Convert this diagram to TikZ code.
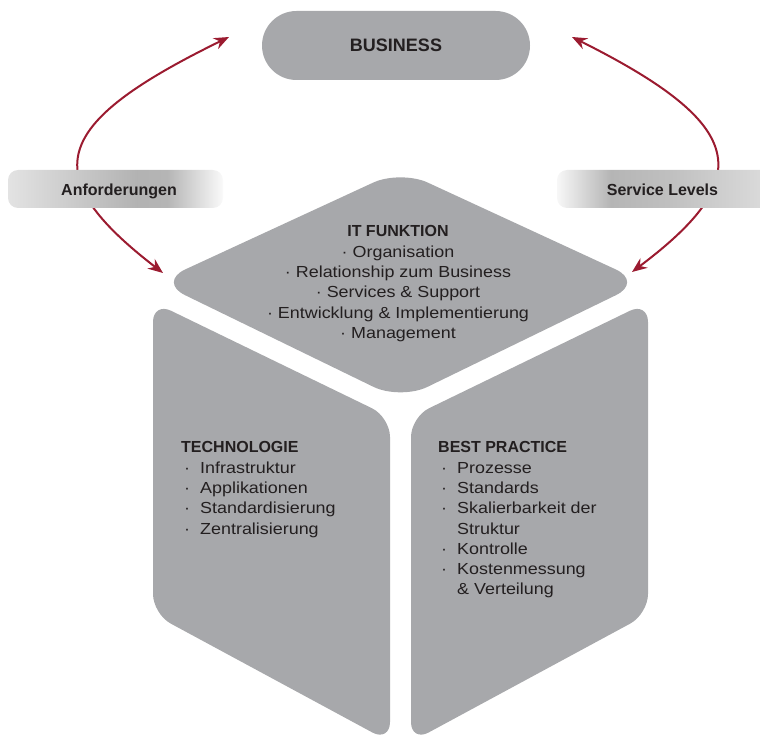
\documentclass[tikz,border=0pt]{standalone}
\usepackage{fontspec}
\setmainfont{Liberation Sans}
\newfontfamily\bodyfont[FakeStretch=1.12]{Liberation Sans}
\usetikzlibrary{arrows.meta}
\definecolor{facegray}{RGB}{167,168,171}
\definecolor{arrowred}{RGB}{155,27,48}
\definecolor{txt}{RGB}{35,31,32}
\pgfdeclarehorizontalshading{bandleft}{100bp}{color(0bp)=(gray!22); color(25bp)=(gray!22); color(55bp)=(gray!60); color(62bp)=(gray!58); color(75bp)=(gray!4); color(100bp)=(gray!4)}
\pgfdeclarehorizontalshading{bandright}{100bp}{color(0bp)=(gray!6); color(25bp)=(gray!6); color(37bp)=(gray!58); color(50bp)=(gray!50); color(75bp)=(gray!25); color(100bp)=(gray!25)}
\newcommand{\bul}{\makebox[19pt][l]{\hspace{3pt}·}}
\begin{document}
\begin{tikzpicture}[x=1pt,y=-1pt,
  face/.style={fill=facegray},
  conn/.style={draw=arrowred, line width=2pt, arrows={Stealth[length=15pt,width=12pt,inset=5pt]-Stealth[length=15pt,width=12pt,inset=5pt]}},
  band/.style={rounded corners=10pt},
  bandtext/.style={font=\bfseries\fontsize{16}{19}\selectfont, text=txt, anchor=base, inner sep=0pt},
  block/.style={font=\bodyfont\fontsize{16}{20.3}\selectfont, text=txt, inner sep=0pt}]
\useasboundingbox (0,0) rectangle (760,738);
\clip (0,0) rectangle (760,738);

% connectors
\coordinate (lt) at (229,37);
\coordinate (lb) at (163,273);
\coordinate (rt) at (572,37);
\coordinate (rb) at (632,272);
\draw[conn] (lt) .. controls (49,125) and (36.6,175.4) .. (lb);
\draw[conn] (rt) .. controls (748,125) and (757,178) .. (rb);

% bands
\path[band, shading=bandleft] (8,170) rectangle (223,208);
\path[band, shading=bandright] (557,170) rectangle (780,208);
\node[bandtext] (anf) at (119,196) {Anforderungen};
\node[bandtext] (svc) at (662.5,196) {Service Levels};

% business
\node[fill=facegray, rounded corners=34.5pt, minimum width=268pt, minimum height=69pt, inner sep=0pt, font=\bfseries\fontsize{18}{21}\selectfont, text=txt] (business) at (396,45.5) {BUSINESS};

% faces
\fill[face, rounded corners=30pt] (158,282) -- (400.5,170) -- (643,282) -- (400.5,400) -- cycle;
\fill[face, rounded corners=20pt] (153,302) -- (390,417) -- (390,742) -- (153,614) -- cycle;
\fill[face, rounded corners=20pt] (411,417) -- (648,302) -- (648,614) -- (411,742) -- cycle;

% texts
\node[block, align=center, anchor=north] (itf) at (398,225.5) {{\rmfamily\bfseries IT FUNKTION}\\· Organisation\\· Relationship zum Business\\· Services \& Support\\· Entwicklung \& Implementierung\\· Management};
\node[block, align=left, anchor=north west] (tech) at (181,441.5) {{\rmfamily\bfseries TECHNOLOGIE}\\\bul Infrastruktur\\\bul Applikationen\\\bul Standardisierung\\\bul Zentralisierung};
\node[block, align=left, anchor=north west] (best) at (438,441.5) {{\rmfamily\bfseries BEST PRACTICE}\\\bul Prozesse\\\bul Standards\\\bul Skalierbarkeit der\\\hspace*{19pt}Struktur\\\bul Kontrolle\\\bul Kostenmessung\\\hspace*{19pt}\& Verteilung};
\end{tikzpicture}
\end{document}
